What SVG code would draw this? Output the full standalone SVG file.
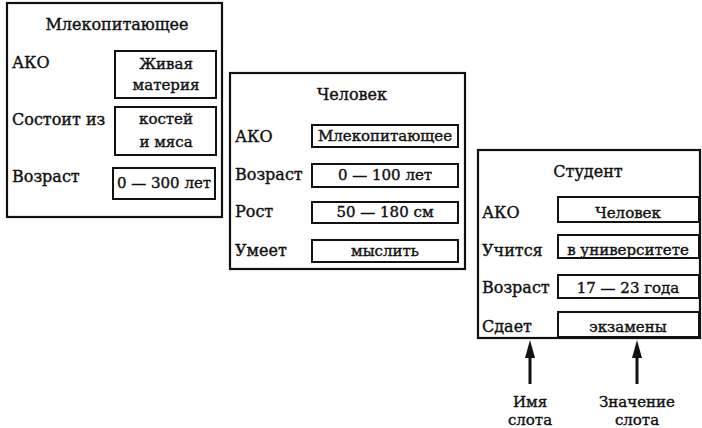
<svg xmlns="http://www.w3.org/2000/svg" width="702" height="428" viewBox="0 0 702 428">
<defs>
<style>
.frame{fill:#fff;stroke:#111;stroke-width:2.2}
.vbox{fill:#fff;stroke:#111;stroke-width:2}
.t{font-size:16px;fill:#111;stroke:#111;stroke-width:0.4}
.v{font-size:15px}
.c{text-anchor:middle}
.arr{stroke:#111;stroke-width:3;fill:none}
.head{fill:#111;stroke:none}
</style>
</defs>
<rect width="702" height="428" fill="#fff"/>

<g font-family="DejaVu Serif, Liberation Serif, serif" class="t">
<g id="frame-mammal">
<rect class="frame" x="7" y="3" width="215" height="214"/>
<text class="c" x="117" y="30">Млекопитающее</text>
<text x="12" y="68">АКО</text>
<rect class="vbox" x="115" y="51" width="101" height="47"/>
<text class="c v" x="166" y="69">Живая</text>
<text class="c v" x="166" y="90">материя</text>
<text x="12" y="125">Состоит из</text>
<rect class="vbox" x="115" y="107" width="101" height="48"/>
<text class="c v" x="166" y="124">костей</text>
<text class="c v" x="166" y="147">и мяса</text>
<text x="12" y="182">Возраст</text>
<rect class="vbox" x="113" y="168" width="102" height="31"/>
<text class="c v" x="164" y="188">0 — 300 лет</text>
</g>

<g id="frame-human">
<rect class="frame" x="230" y="73" width="235" height="196"/>
<text class="c" x="352" y="100">Человек</text>
<text x="235" y="142">АКО</text>
<rect class="vbox" x="312" y="125" width="146" height="22"/>
<text class="c v" x="385" y="141">Млекопитающее</text>
<text x="235" y="180">Возраст</text>
<rect class="vbox" x="312" y="164" width="146" height="23"/>
<text class="c v" x="385" y="180">0 — 100 лет</text>
<text x="235" y="217">Рост</text>
<rect class="vbox" x="312" y="202" width="146" height="21"/>
<text class="c v" x="385" y="217">50 — 180 см</text>
<text x="235" y="256">Умеет</text>
<rect class="vbox" x="312" y="240" width="146" height="22"/>
<text class="c v" x="385" y="256">мыслить</text>
</g>

<g id="frame-student">
<rect class="frame" x="478" y="150" width="222" height="188"/>
<text class="c" x="588" y="177">Студент</text>
<text x="482" y="218">АКО</text>
<rect class="vbox" x="558" y="197" width="141" height="25"/>
<text class="c v" x="628" y="218">Человек</text>
<text x="482" y="256">Учится</text>
<rect class="vbox" x="558" y="235" width="141" height="23"/>
<text class="c v" x="628" y="255">в университете</text>
<text x="482" y="293">Возраст</text>
<rect class="vbox" x="558" y="275" width="141" height="23"/>
<text class="c v" x="628" y="293">17 — 23 года</text>
<text x="482" y="332">Сдает</text>
<rect class="vbox" x="558" y="312" width="141" height="25"/>
<text class="c v" x="628" y="332">экзамены</text>
</g>

<g id="connectors">
<line class="arr" x1="530" y1="384" x2="530" y2="354"/>
<polygon class="head" points="530,340 525,358 535,358"/>
<line class="arr" x1="637" y1="384" x2="637" y2="354"/>
<polygon class="head" points="637,340 632,358 642,358"/>
</g>

<g id="label-slot-name">
<text class="c v" x="530" y="407">Имя</text>
<text class="c v" x="530" y="425">слота</text>
</g>
<g id="label-slot-value">
<text class="c v" x="637" y="407">Значение</text>
<text class="c v" x="637" y="425">слота</text>
</g>
</g>
</svg>
